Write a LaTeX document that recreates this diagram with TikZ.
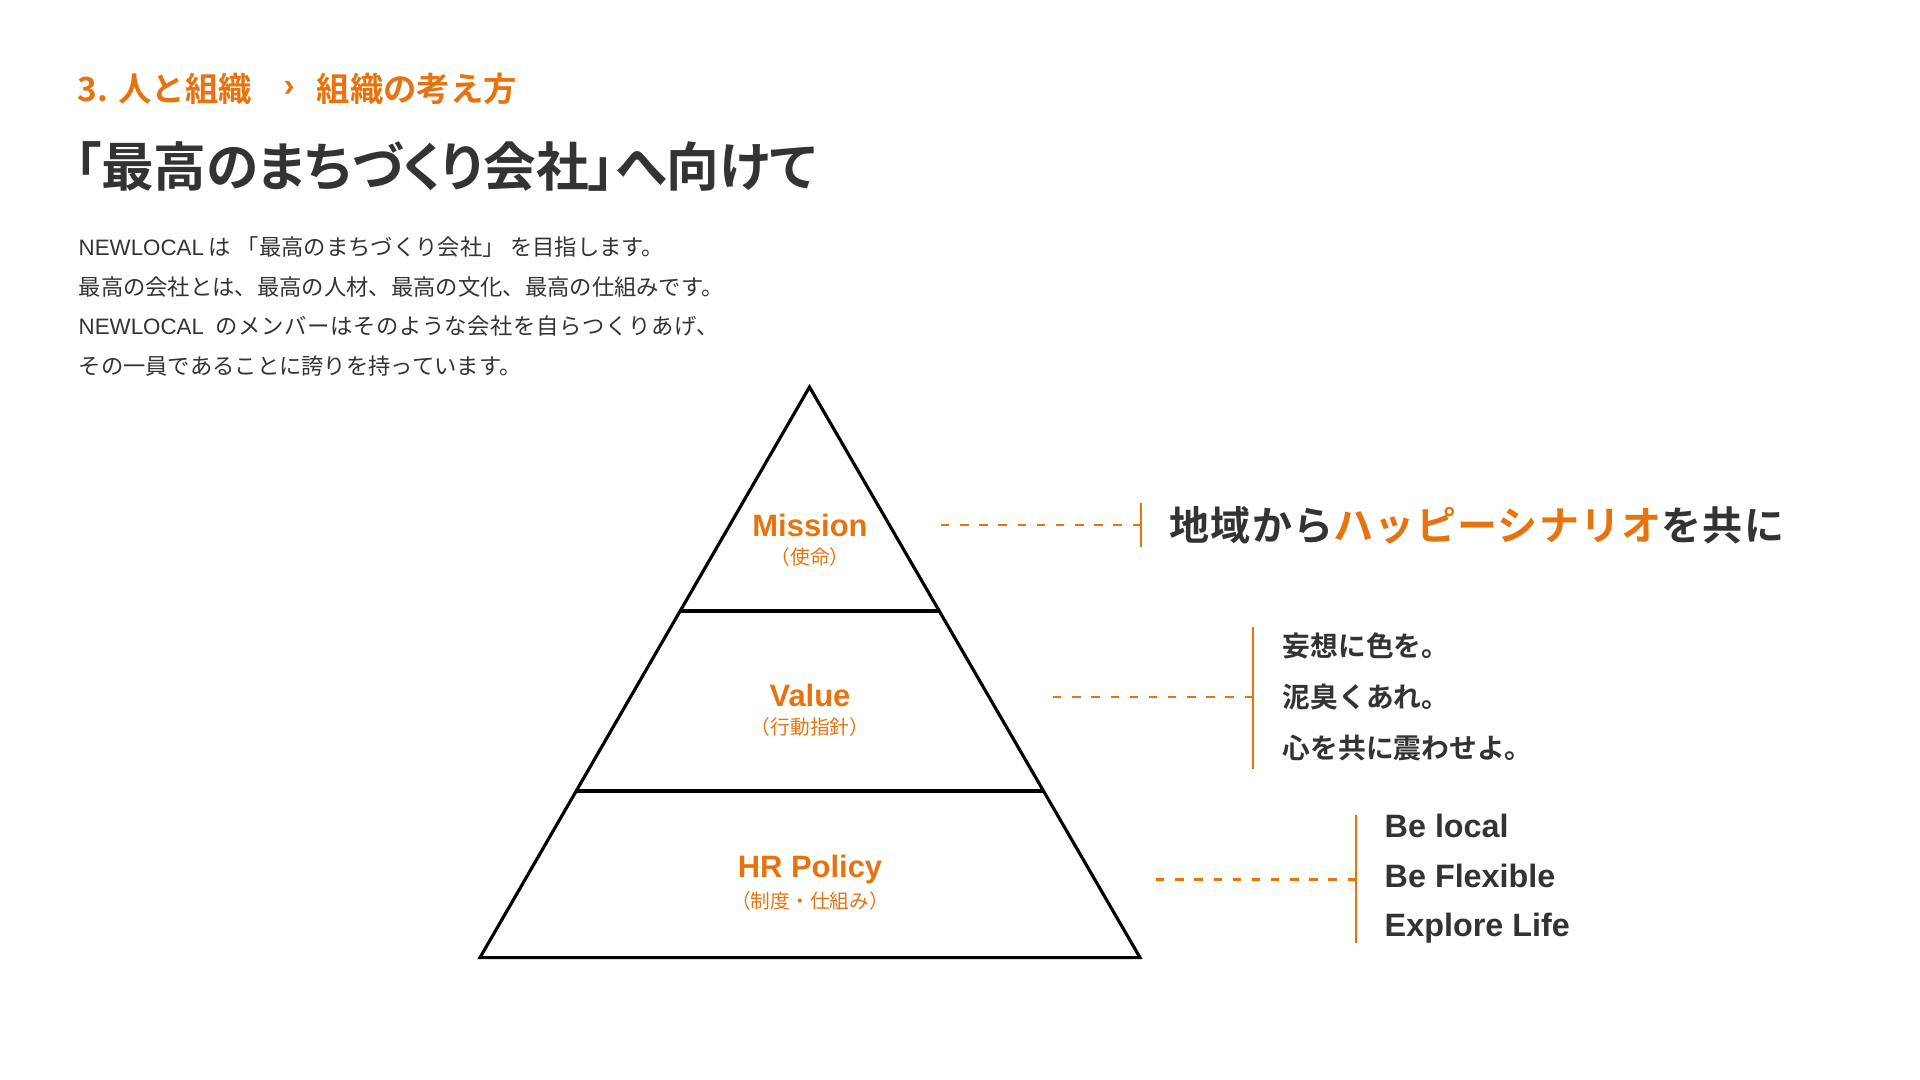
\documentclass[tikz,border=0pt]{standalone}
\usepackage{fontspec}
\setmainfont{Noto Sans CJK JP}[BoldFont={Noto Sans CJK JP Bold}]
\newfontfamily\latin{Liberation Sans}
\usepackage{tikz}
\usetikzlibrary{calc, positioning}
\definecolor{nlorange}{HTML}{E8730E}
\definecolor{nltext}{HTML}{333333}

\begin{document}
\begin{tikzpicture}[
    pyramid/.style={line width=0.9pt, line join=miter},
    leader/.style={nlorange, line width=0.85pt, dash pattern=on 2.4pt off 3.05pt},
    bracketbar/.style={nlorange, line width=0.75pt},
    crumb/.style={font=\bfseries\fontsize{9.5}{11}\selectfont, text=nlorange, anchor=west, inner sep=0pt},
    layertitle/.style={font=\latin\bfseries\fontsize{8.8}{10}\selectfont, text=nlorange, inner sep=0pt},
    layersub/.style={font=\fontsize{5.6}{6.5}\selectfont, text=nlorange, inner sep=0pt},
    rightlist/.style={text=nltext, anchor=west, align=left, inner sep=0pt}]
    \useasboundingbox (0,0) rectangle (19.2,-10.8);

    \node[crumb] (chapter) at (0.77,-0.89) {3. 人と組織};
    \node[crumb, anchor=center, font=\latin\bfseries\fontsize{9.4}{11}\selectfont] (chevron) at (2.89,-0.89) {›};
    \node[crumb] (section) at (3.16,-0.89) {組織の考え方};

    \node[anchor=west, inner sep=0pt, text=nltext, font=\bfseries\addfontfeatures{CharacterWidth=AlternateProportional}\fontsize{15}{17}\selectfont] (title) at (0.74,-1.665) {「最高のまちづくり会社」へ向けて};

    \node[anchor=west, inner sep=0pt, text=nltext, align=left, font=\fontsize{6.35}{11.3}\selectfont] (lead) at (0.78,-3.065)
        {{\latin NEWLOCAL} は\hspace{0.25em}「最高のまちづくり会社」\hspace{0.25em}を目指します。\\最高の会社とは、最高の人材、最高の文化、最高の仕組みです。\\{\latin NEWLOCAL}\hspace{0.5em}{\addfontfeatures{LetterSpace=3}のメンバーはそのような会社を自らつくりあげ、}\\その一員であることに誇りを持っています。};

    \coordinate (apex) at (8.095,-3.87);
    \coordinate (baseL) at (4.80,-9.576);
    \coordinate (baseR) at (11.40,-9.576);
    \draw[pyramid] (apex) -- (baseR) -- (baseL) -- cycle;
    \draw[pyramid] ($(apex)!0.3926!(baseL)$) -- ($(apex)!0.3926!(baseR)$);
    \draw[pyramid] ($(apex)!0.708!(baseL)$) -- ($(apex)!0.708!(baseR)$);

    \node[layertitle] (mission) at (8.10,-5.25) {Mission};
    \node[layersub] (missionjp) at (8.10,-5.57) {（使命）};
    \node[layertitle] (value) at (8.10,-6.955) {Value};
    \node[layersub] (valuejp) at (8.10,-7.27) {（行動指針）};
    \node[layertitle] (hrpolicy) at (8.10,-8.69) {HR Policy};
    \node[layersub] (hrpolicyjp) at (8.10,-9.01) {（制度・仕組み）};

    \coordinate (missionend) at (9.40,-5.25);
    \coordinate (missionbar) at (11.41,-5.25);
    \draw[leader] (missionbar) -- (missionend);
    \draw[bracketbar] ([yshift=0.22cm]missionbar) -- ([yshift=-0.22cm]missionbar);

    \coordinate (valueend) at (10.53,-6.97);
    \coordinate (valuebar) at (12.53,-6.97);
    \draw[leader] (valuebar) -- (valueend);
    \draw[bracketbar] ([yshift=0.70cm]valuebar) -- ([yshift=-0.72cm]valuebar);

    \coordinate (hrend) at (11.56,-8.79);
    \coordinate (hrbar) at (13.56,-8.79);
    \draw[leader] (hrbar) -- (hrend);
    \draw[bracketbar] ([yshift=0.64cm]hrbar) -- ([yshift=-0.64cm]hrbar);

    \node[rightlist, font=\bfseries\addfontfeatures{LetterSpace=3}\fontsize{11.4}{13}\selectfont] (missiontext) at (11.69,-5.25)
        {地域から\textcolor{nlorange}{ハッピーシナリオ}を共に};
    \node[rightlist, font=\bfseries\fontsize{7.9}{14.5}\selectfont] (valuetext) at (12.82,-6.97)
        {妄想に色を。\\泥臭くあれ。\\心を共に震わせよ。};
    \node[rightlist, font=\latin\bfseries\fontsize{9.2}{14.1}\selectfont] (hrtext) at (13.84,-8.79)
        {Be local\\Be Flexible\\Explore Life};
\end{tikzpicture}
\end{document}
